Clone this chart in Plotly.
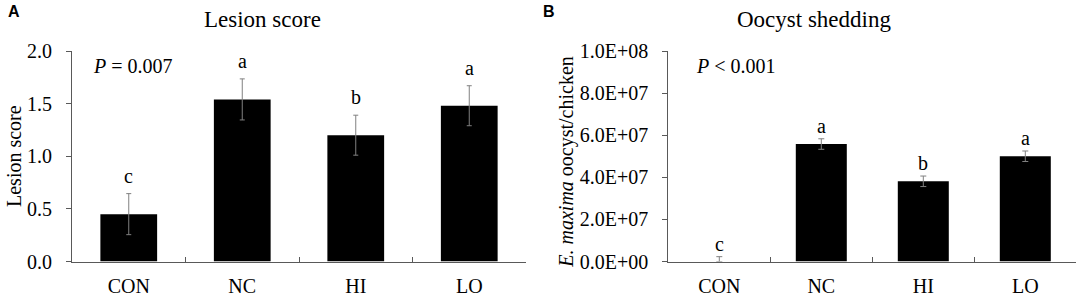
import plotly.graph_objects as go
from plotly.subplots import make_subplots

# ---------------- data ----------------
categories = ["CON", "NC", "HI", "LO"]

lesion_mean = [0.45, 1.54, 1.20, 1.48]
lesion_se = [0.195, 0.195, 0.19, 0.19]
lesion_letters = ["c", "a", "b", "a"]
lesion_ticks = [0.0, 0.5, 1.0, 1.5, 2.0]

oocyst_mean = [0.0, 5.58e7, 3.81e7, 5.00e7]
oocyst_se = [2.3e6, 2.5e6, 2.5e6, 2.5e6]
oocyst_letters = ["c", "a", "b", "a"]
oocyst_ticks = [0.0, 2e7, 4e7, 6e7, 8e7, 1e8]

title_a = "Lesion score"
title_b = "Oocyst shedding"
ytitle_a = "Lesion score"
ytitle_b = "<i>E. maxima</i> oocyst/chicken"
p_a = "<i>P</i> = 0.007"
p_b = "<i>P</i> &lt; 0.001"

# ---------------- style ----------------
W, H = 1084, 299
SERIF = "Liberation Serif"
SANS = "Liberation Sans"
AX = "#595959"
ERR = "#808080"

def px_x(p):
    return p / W

def px_y(p):
    return (H - p) / H

fig = make_subplots(rows=1, cols=2)

fig.add_trace(go.Bar(
    x=categories, y=lesion_mean, marker=dict(color="black", line=dict(width=0)),
    error_y=dict(type="data", array=lesion_se, color=ERR, thickness=1, width=2.5),
    showlegend=False, hoverinfo="skip"), row=1, col=1)

fig.add_trace(go.Bar(
    x=categories, y=oocyst_mean, marker=dict(color="black", line=dict(width=0)),
    error_y=dict(type="data", symmetric=False, array=oocyst_se,
                 arrayminus=[min(s, m) for s, m in zip(oocyst_se, oocyst_mean)],
                 color=ERR, thickness=1, width=3),
    showlegend=False, hoverinfo="skip"), row=1, col=2)

ydom = [px_y(261.5), px_y(51)]

xcommon = dict(
    type="category", range=[-0.5, 3.5], showline=True, linecolor=AX, linewidth=1,
    ticks="inside", tickson="boundaries", ticklen=5, tickcolor=AX, tickwidth=1,
    showgrid=False, zeroline=False, fixedrange=True, automargin=False,
    tickfont=dict(family=SERIF, size=20, color="black"), ticklabelstandoff=6,
)
ycommon = dict(
    showline=True, linecolor=AX, linewidth=1, ticks="outside", ticklen=5,
    tickcolor=AX, tickwidth=1, showgrid=False, zeroline=False, fixedrange=True,
    automargin=False,
    tickfont=dict(family=SERIF, size=20, color="black"), domain=ydom,
    ticklabelstandoff=10,
)

fig.update_layout(
    template="none",
    xaxis=dict(domain=[px_x(72), px_x(526)], **xcommon),
    xaxis2=dict(domain=[px_x(668.3), px_x(1076.3)], **xcommon),
    yaxis=dict(range=[0, 2.0], tickvals=lesion_ticks,
               ticktext=[f"{v:.1f}" for v in lesion_ticks], **ycommon),
    yaxis2=dict(range=[0, 1e8], tickvals=oocyst_ticks,
                ticktext=[f"{v:.1E}" for v in oocyst_ticks], **ycommon),
    bargap=0.5,
    width=W, height=H,
    margin=dict(l=0, r=0, t=0, b=0, pad=0, autoexpand=False),
    paper_bgcolor="white", plot_bgcolor="white",
    font=dict(family=SERIF, color="black"),
    showlegend=False,
)

ann = []
# panel letters
ann.append(dict(text="<b>A</b>", x=px_x(6), y=px_y(11.5), xref="paper", yref="paper",
                xanchor="left", yanchor="middle", showarrow=False,
                font=dict(family=SANS, size=16, color="black")))
ann.append(dict(text="<b>B</b>", x=px_x(540.5), y=px_y(11.5), xref="paper", yref="paper",
                xanchor="left", yanchor="middle", showarrow=False,
                font=dict(family=SANS, size=16, color="black")))
# titles
ann.append(dict(text=title_a, x=px_x(262.6), y=px_y(20), xref="paper", yref="paper",
                xanchor="center", yanchor="middle", showarrow=False,
                font=dict(family=SERIF, size=23, color="black")))
ann.append(dict(text=title_b, x=px_x(814), y=px_y(20), xref="paper", yref="paper",
                xanchor="center", yanchor="middle", showarrow=False,
                font=dict(family=SERIF, size=23, color="black")))
# y titles
ann.append(dict(text=ytitle_a, x=px_x(13.5), y=px_y(156.5), xref="paper", yref="paper",
                xanchor="center", yanchor="middle", textangle=-90, showarrow=False,
                font=dict(family=SERIF, size=20, color="black")))
ann.append(dict(text=ytitle_b, x=px_x(567), y=px_y(161.7), xref="paper", yref="paper",
                xanchor="center", yanchor="middle", textangle=-90, showarrow=False,
                font=dict(family=SERIF, size=20, color="black")))
# P values
ann.append(dict(text=p_a, x=px_x(90.5), y=px_y(66), xref="paper", yref="paper",
                xanchor="left", yanchor="middle", showarrow=False,
                font=dict(family=SERIF, size=20, color="black")))
ann.append(dict(text=p_b, x=px_x(693.5), y=px_y(66), xref="paper", yref="paper",
                xanchor="left", yanchor="middle", showarrow=False,
                font=dict(family=SERIF, size=20, color="black")))
# significance letters
for c, m, s, l in zip(categories, lesion_mean, lesion_se, lesion_letters):
    ann.append(dict(text=l, x=c, y=m + s, xref="x", yref="y", xanchor="center",
                    yanchor="bottom", yshift=5, showarrow=False,
                    font=dict(family=SERIF, size=20, color="black")))
for c, m, s, l in zip(categories, oocyst_mean, oocyst_se, oocyst_letters):
    ann.append(dict(text=l, x=c, y=m + s, xref="x2", yref="y2", xanchor="center",
                    yanchor="bottom", yshift=0, showarrow=False,
                    font=dict(family=SERIF, size=20, color="black")))

fig.update_layout(annotations=ann)

fig.write_html(
    "out.html",
    config={"displayModeBar": False},
    post_script="document.body.style.margin='0';document.body.style.overflow='hidden';",
)
